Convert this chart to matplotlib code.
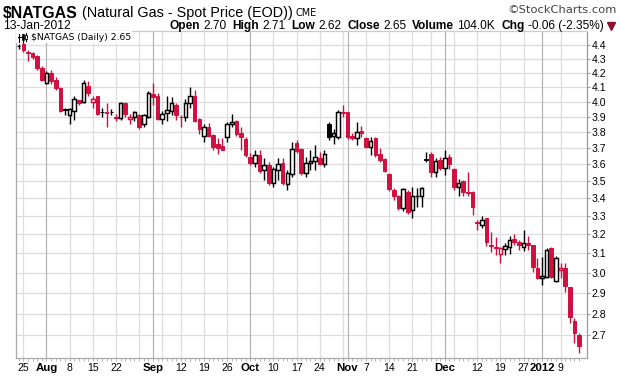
import matplotlib
matplotlib.use("Agg")
import matplotlib.pyplot as plt
from matplotlib.patches import Rectangle
from matplotlib.lines import Line2D
from matplotlib.ticker import FixedLocator, NullLocator, FixedFormatter
import numpy as np
import pandas as pd

# ---------------- data ----------------
holidays = ["2011-09-05", "2011-11-24", "2011-12-26", "2012-01-02"]
dates = pd.bdate_range("2011-07-22", "2012-01-13")
dates = dates[~dates.isin(pd.to_datetime(holidays))]

opens = [4.39, 4.41, 4.35, 4.34, 4.32, 4.23, 4.13, 4.20, 4.15, 4.09,
         3.95, 3.91, 3.94, 4.01, 4.00, 4.11, 4.00, 4.04, 3.93, 3.93,
         3.93, 3.895, 3.89, 3.99, 3.885, 3.90, 3.91, 3.85, 3.90, 4.05,
         4.04, 3.885, 3.925, 3.94, 3.98, 3.90, 3.90, 3.99, 4.04, 3.885,
         3.775, 3.83, 3.78, 3.725, 3.71, 3.77, 3.85, 3.87, 3.795, 3.755,
         3.645, 3.61, 3.655, 3.565, 3.595, 3.49, 3.565, 3.61, 3.485, 3.54,
         3.73, 3.695, 3.55, 3.61, 3.62, 3.64, 3.60, 3.85, 3.775, 3.77,
         3.93, 3.93, 3.775, 3.76, 3.805, 3.76, 3.705, 3.76, 3.66, 3.63,
         3.54, 3.45, 3.41, 3.345, 3.435, 3.335, 3.41, 3.41, 3.63, 3.66,
         3.555, 3.625, 3.58, 3.645, 3.57, 3.465, 3.50, 3.435, 3.435, 3.265,
         3.25, 3.29, 3.145, 3.133, 3.095, 3.122, 3.133, 3.175, 3.16, 3.133,
         3.155, 3.145, 3.025, 2.975, 2.98, 3.128, 2.96, 3.015, 3.025, 2.93,
         2.765, 2.70]
highs = [4.41, 4.42, 4.36, 4.35, 4.33, 4.25, 4.21, 4.22, 4.17, 4.10,
         3.96, 3.96, 4.04, 4.01, 4.15, 4.14, 4.04, 4.04, 3.96, 3.99,
         3.95, 3.92, 4.00, 4.00, 3.92, 3.94, 3.92, 3.92, 4.07, 4.13,
         4.06, 3.94, 4.04, 4.03, 3.99, 3.91, 4.02, 4.10, 4.08, 3.89,
         3.85, 3.86, 3.79, 3.76, 3.76, 3.865, 3.92, 3.88, 3.83, 3.77,
         3.67, 3.69, 3.69, 3.64, 3.615, 3.585, 3.64, 3.64, 3.565, 3.74,
         3.75, 3.70, 3.645, 3.69, 3.72, 3.675, 3.69, 3.865, 3.82, 3.945,
         3.975, 3.93, 3.795, 3.865, 3.84, 3.77, 3.77, 3.77, 3.70, 3.64,
         3.55, 3.46, 3.42, 3.46, 3.45, 3.465, 3.46, 3.465, 3.675, 3.675,
         3.64, 3.645, 3.69, 3.665, 3.575, 3.51, 3.505, 3.555, 3.44, 3.275,
         3.30, 3.29, 3.21, 3.185, 3.13, 3.155, 3.19, 3.20, 3.17, 3.225,
         3.19, 3.145, 3.075, 3.08, 3.128, 3.133, 3.085, 3.05, 3.05, 2.93,
         2.78, 2.71]
lows = [4.37, 4.35, 4.28, 4.30, 4.22, 4.14, 4.12, 4.12, 4.08, 3.93,
        3.91, 3.85, 3.88, 3.98, 3.99, 4.04, 3.96, 3.91, 3.90, 3.83,
        3.91, 3.87, 3.88, 3.90, 3.85, 3.87, 3.82, 3.83, 3.89, 3.98,
        3.88, 3.85, 3.87, 3.91, 3.88, 3.83, 3.87, 3.96, 3.865, 3.79,
        3.74, 3.77, 3.69, 3.66, 3.685, 3.74, 3.83, 3.775, 3.69, 3.645,
        3.595, 3.585, 3.55, 3.505, 3.475, 3.465, 3.505, 3.475, 3.45, 3.525,
        3.67, 3.535, 3.525, 3.565, 3.565, 3.595, 3.585, 3.75, 3.725, 3.755,
        3.90, 3.755, 3.75, 3.72, 3.77, 3.70, 3.655, 3.645, 3.615, 3.555,
        3.44, 3.39, 3.335, 3.325, 3.31, 3.29, 3.35, 3.35, 3.615, 3.525,
        3.525, 3.565, 3.535, 3.57, 3.45, 3.41, 3.41, 3.41, 3.305, 3.225,
        3.235, 3.135, 3.105, 3.09, 3.05, 3.09, 3.095, 3.145, 3.117, 3.11,
        3.117, 3.005, 2.97, 2.94, 2.975, 2.975, 2.955, 2.975, 2.905, 2.755,
        2.665, 2.62]
closes = [4.39, 4.36, 4.34, 4.31, 4.23, 4.15, 4.20, 4.14, 4.09, 3.94,
          3.945, 3.95, 4.02, 3.99, 4.13, 4.06, 4.02, 3.92, 3.93, 3.925,
          3.93, 3.89, 3.99, 3.92, 3.90, 3.93, 3.83, 3.91, 4.06, 4.03,
          3.885, 3.92, 3.945, 3.99, 3.91, 3.895, 3.99, 4.04, 3.87, 3.82,
          3.83, 3.775, 3.705, 3.70, 3.69, 3.85, 3.865, 3.79, 3.77, 3.655,
          3.61, 3.655, 3.56, 3.595, 3.49, 3.57, 3.60, 3.49, 3.55, 3.695,
          3.68, 3.55, 3.61, 3.62, 3.645, 3.60, 3.665, 3.77, 3.795, 3.93,
          3.925, 3.77, 3.76, 3.80, 3.795, 3.705, 3.745, 3.655, 3.625, 3.56,
          3.455, 3.41, 3.345, 3.455, 3.32, 3.41, 3.415, 3.46, 3.625, 3.555,
          3.62, 3.58, 3.64, 3.60, 3.465, 3.49, 3.435, 3.43, 3.35, 3.26,
          3.28, 3.16, 3.135, 3.128, 3.125, 3.138, 3.17, 3.16, 3.14, 3.155,
          3.145, 3.03, 2.975, 2.985, 3.117, 2.98, 3.075, 3.025, 2.935, 2.785,
          2.71, 2.65]

tick_dates = ["2011-07-25", "2011-08-01", "2011-08-08", "2011-08-15", "2011-08-22",
              "2011-09-01", "2011-09-12", "2011-09-19", "2011-09-26", "2011-10-03",
              "2011-10-10", "2011-10-17", "2011-10-24", "2011-11-01", "2011-11-07",
              "2011-11-14", "2011-11-21", "2011-12-01", "2011-12-12", "2011-12-19",
              "2011-12-27", "2012-01-03", "2012-01-09"]
tick_labels = ["25", "Aug", "8", "15", "22", "Sep", "12", "19", "26", "Oct",
               "10", "17", "24", "Nov", "7", "14", "21", "Dec", "12", "19",
               "27", "2012", "9"]
y_ticks = [2.7, 2.8, 2.9, 3.0, 3.1, 3.2, 3.3, 3.4, 3.5, 3.6, 3.7, 3.8, 3.9,
           4.0, 4.1, 4.2, 4.3, 4.4]

# ---------------- figure ----------------
W, H = 620, 376
fig = plt.figure(figsize=(W / 100, H / 100), dpi=100)
fig.patch.set_facecolor("white")
Lp, Rp, Tp, Bp = 16, 586.5, 30.5, 358
ax = fig.add_axes([Lp / W, 1 - Bp / H, (Rp - Lp) / W, (Bp - Tp) / H])

n = len(closes)
x = np.arange(n)
o = np.array(opens); c = np.array(closes); hi = np.array(highs); lo = np.array(lows)
prev = np.concatenate([[c[0]], c[:-1]])
RED = "#d20f3f"
cols = [("black" if c[i] >= prev[i] else RED) for i in range(n)]

ax.set_yscale("log")
ax.set_ylim(2.598, 4.509)
ax.set_xlim(-0.58, 122.6)

# gridlines
for v in y_ticks:
    ax.axhline(v, color="#dddddd", lw=0.9, zorder=0)
for i in range(1, n):
    d, dp = dates[i], dates[i - 1]
    if d.month != dp.month:
        ax.axvline(i, color="#b5b5b5", lw=0.9, zorder=0.5)
    elif d.isocalendar()[1] != dp.isocalendar()[1]:
        ax.axvline(i, color="#dddddd", lw=0.9, zorder=0)

# candles
ax.vlines(x, lo, hi, colors=cols, lw=1.0, zorder=2)
bw = 0.78
for i in range(n):
    col = cols[i]
    bot = min(o[i], c[i]); h = abs(c[i] - o[i])
    if c[i] > o[i]:
        ax.bar(i, h, bottom=bot, width=bw, facecolor="white", edgecolor=col,
               linewidth=1.05, zorder=3)
    else:
        ax.bar(i, max(h, 1e-6), bottom=bot, width=bw, facecolor=col, edgecolor=col,
               linewidth=0.7, zorder=3)

# axes styling
pos = [int(np.where(dates == pd.Timestamp(t))[0][0]) for t in tick_dates]
ax.xaxis.set_major_locator(FixedLocator(pos))
ax.xaxis.set_major_formatter(FixedFormatter(tick_labels))
ax.xaxis.set_minor_locator(FixedLocator(list(range(n))))
ax.tick_params(axis="x", which="both", length=2, width=0.6, color="#aaaaaa", pad=1.5)
for lbl in ax.get_xticklabels():
    lbl.set_fontfamily("Liberation Sans")
    if lbl.get_text().isdigit() and len(lbl.get_text()) <= 2:
        lbl.set_fontsize(7.5)
    else:
        lbl.set_fontsize(8.2)
        lbl.set_fontweight("bold")

ax.yaxis.tick_right()
ax.yaxis.set_major_locator(FixedLocator(y_ticks))
ax.yaxis.set_major_formatter(FixedFormatter([f"{v:.1f}" for v in y_ticks]))
ax.yaxis.set_minor_locator(NullLocator())
ax.tick_params(axis="y", which="both", length=2.5, width=0.7, color="#999999", pad=1.2,
               labelsize=7.6)
for lbl in ax.get_yticklabels():
    lbl.set_fontfamily("Liberation Sans")

for s in ["left", "bottom", "top"]:
    ax.spines[s].set_color("#aaaaaa")
    ax.spines[s].set_linewidth(0.9)
ax.spines["top"].set_color("#cccccc")
ax.spines["right"].set_color("#999999")
ax.spines["right"].set_linestyle((0, (1, 1)))
ax.spines["right"].set_linewidth(0.9)

# legend box
ax.add_patch(Rectangle((0, 1 - 12 / (Bp - Tp)), (132 - Lp) / (Rp - Lp), 12 / (Bp - Tp),
                       transform=ax.transAxes, facecolor="white", edgecolor="none",
                       zorder=5))
leg = ax.text((31 - Lp) / (Rp - Lp), 1 - (38.0 - Tp) / (Bp - Tp), "$NATGAS (Daily) 2.65",
              transform=ax.transAxes, fontsize=7.5, fontfamily="DejaVu Sans",
              va="center", ha="left", zorder=6)

def P(px, py):
    return px / W, 1 - py / H

# tiny candlestick icon
def fl(xs, ys, **kw):
    fig.add_artist(Line2D([xx / W for xx in xs], [1 - yy / H for yy in ys],
                          transform=fig.transFigure, **kw))
fl([19.5, 19.5], [33.5, 41.5], color="black", lw=0.8)
fl([18.3, 20.7], [37, 37], color="black", lw=0.8)
fig.add_artist(Rectangle(P(21.5, 39.5), 2 / W, 5 / H, transform=fig.transFigure,
                         facecolor="black", edgecolor="black", lw=0.5))
fl([22.5, 22.5], [33.5, 41.5], color="black", lw=0.8)
fig.add_artist(Rectangle(P(25, 39), 2 / W, 4 / H, transform=fig.transFigure,
                         facecolor="white", edgecolor="black", lw=0.6))
fl([26, 26], [33, 35], color="black", lw=0.8)
fl([26, 26], [39, 41], color="black", lw=0.8)

# ---------------- header ----------------
fig.canvas.draw()
rend = fig.canvas.get_renderer()

def fit(t, width):
    w = t.get_window_extent(rend).width
    t.set_fontsize(t.get_fontsize() * width / w)

fit(leg, 100)

t1 = fig.text(*P(3, 17.5), "$NATGAS", fontsize=11.5, fontweight="bold",
              fontfamily="Liberation Sans", va="baseline")
fit(t1, 75)
t2 = fig.text(*P(82, 16.5), "(Natural Gas - Spot Price (EOD))", fontsize=9.5,
              fontfamily="Liberation Sans", va="baseline")
fit(t2, 210)
t3 = fig.text(*P(296, 16.5), "CME", fontsize=7.5, fontfamily="DejaVu Sans",
              va="baseline")
fit(t3, 21)
t4 = fig.text(*P(617, 13), "\u00a9StockCharts.com", fontsize=8,
              fontfamily="DejaVu Sans", va="baseline", ha="right", color="#444444")
fit(t4, 109)
t5 = fig.text(*P(3, 29), "13-Jan-2012", fontsize=8.5, fontfamily="Liberation Sans",
              va="baseline")
fit(t5, 67)

parts = [("Open", "bold"), ("2.70", "normal"), ("High", "bold"), ("2.71", "normal"),
         ("Low", "bold"), ("2.62", "normal"), ("Close", "bold"), ("2.65", "normal"),
         ("Volume", "bold"), ("104.0K", "normal"), ("Chg", "bold"),
         ("-0.06 (-2.35%)", "normal")]
base = 8.5
ts = [fig.text(0, 1 - 29 / H, s, fontsize=base, fontweight=wt,
               fontfamily="Liberation Sans", va="baseline") for s, wt in parts]
ws = [t.get_window_extent(rend).width for t in ts]
gaps = [3 if k % 2 == 0 else 6 for k in range(len(parts))]
gaps[-1] = 0
k = (604 - 170 - sum(gaps)) / sum(ws)
xx = 170
for t, w, g in zip(ts, ws, gaps):
    t.set_fontsize(base * k)
    t.set_x(xx / W)
    xx += w * k + g
fig.add_artist(Line2D([610.5 / W], [1 - 25.5 / H], marker="v", markersize=5.2,
                      color="#8c1030", transform=fig.transFigure))

fig.savefig("out.png", dpi=100, facecolor="white")
